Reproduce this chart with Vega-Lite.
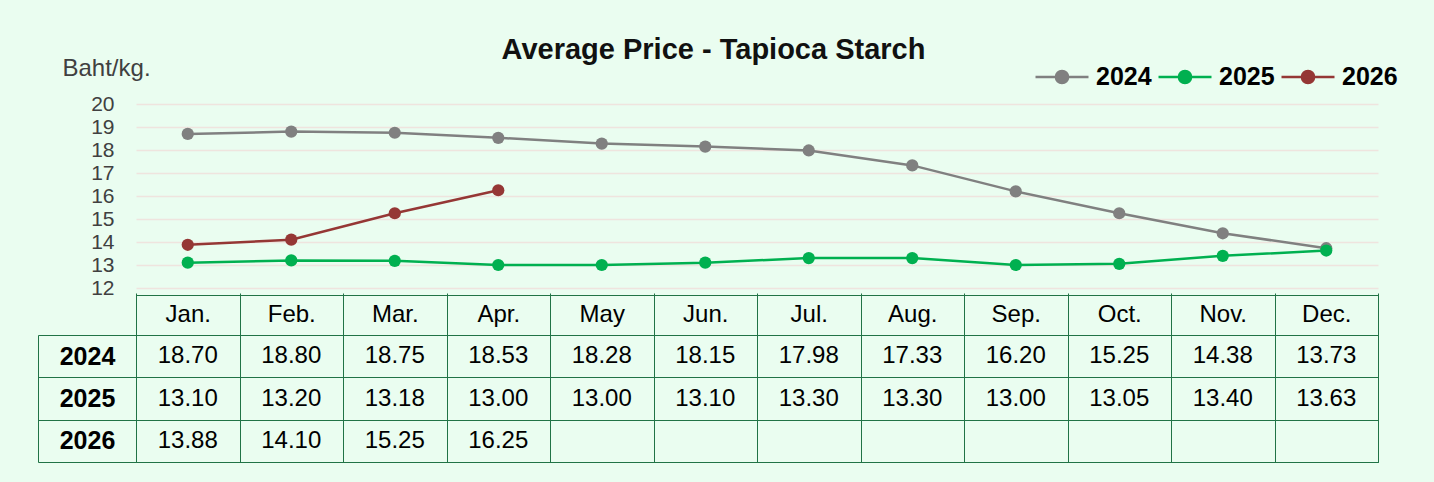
{
  "$schema": "https://vega.github.io/schema/vega-lite/v6.json",
  "background": "#eafdf0",
  "padding": {"left": 37, "top": 36, "right": 38, "bottom": 19},
  "config": {"font": "Liberation Sans", "concat": {"spacing": -6}},
  "title": {"text": "Average Price - Tapioca Starch", "font": "Liberation Sans", "fontSize": 29, "fontWeight": "bold", "color": "#111111", "anchor": "middle", "offset": -9, "dx": -4},
  "datasets": {
    "prices": [
      {"year": "2024", "month": "Jan.", "price": 18.70},
      {"year": "2024", "month": "Feb.", "price": 18.80},
      {"year": "2024", "month": "Mar.", "price": 18.75},
      {"year": "2024", "month": "Apr.", "price": 18.53},
      {"year": "2024", "month": "May", "price": 18.28},
      {"year": "2024", "month": "Jun.", "price": 18.15},
      {"year": "2024", "month": "Jul.", "price": 17.98},
      {"year": "2024", "month": "Aug.", "price": 17.33},
      {"year": "2024", "month": "Sep.", "price": 16.20},
      {"year": "2024", "month": "Oct.", "price": 15.25},
      {"year": "2024", "month": "Nov.", "price": 14.38},
      {"year": "2024", "month": "Dec.", "price": 13.73},
      {"year": "2025", "month": "Jan.", "price": 13.10},
      {"year": "2025", "month": "Feb.", "price": 13.20},
      {"year": "2025", "month": "Mar.", "price": 13.18},
      {"year": "2025", "month": "Apr.", "price": 13.00},
      {"year": "2025", "month": "May", "price": 13.00},
      {"year": "2025", "month": "Jun.", "price": 13.10},
      {"year": "2025", "month": "Jul.", "price": 13.30},
      {"year": "2025", "month": "Aug.", "price": 13.30},
      {"year": "2025", "month": "Sep.", "price": 13.00},
      {"year": "2025", "month": "Oct.", "price": 13.05},
      {"year": "2025", "month": "Nov.", "price": 13.40},
      {"year": "2025", "month": "Dec.", "price": 13.63},
      {"year": "2026", "month": "Jan.", "price": 13.88},
      {"year": "2026", "month": "Feb.", "price": 14.10},
      {"year": "2026", "month": "Mar.", "price": 15.25},
      {"year": "2026", "month": "Apr.", "price": 16.25}
    ]
  },
  "resolve": {"scale": {"x": "independent", "y": "independent"}},
  "vconcat": [
    {
      "width": 1242,
      "height": 184,
      "view": {"stroke": null},
      "data": {"name": "prices"},
      "mark": {"type": "line", "strokeWidth": 2.5, "point": {"filled": true, "size": 150, "opacity": 1}},
      "encoding": {
        "x": {
          "field": "month", "type": "ordinal",
          "sort": ["Jan.", "Feb.", "Mar.", "Apr.", "May", "Jun.", "Jul.", "Aug.", "Sep.", "Oct.", "Nov.", "Dec."],
          "scale": {"type": "point", "padding": 0.5},
          "axis": {"title": null, "labels": false, "ticks": false, "grid": false, "domain": true, "domainColor": "#217346", "domainWidth": 1, "offset": 7}
        },
        "y": {
          "field": "price", "type": "quantitative",
          "scale": {"domain": [12, 20], "nice": false, "zero": false},
          "axis": {
            "values": [12, 13, 14, 15, 16, 17, 18, 19, 20],
            "title": "Baht/kg.", "titleAngle": 0, "titleAlign": "left", "titleBaseline": "alphabetic",
            "titleX": -74, "titleY": -29, "titleFontSize": 24, "titleFontWeight": "normal", "titleColor": "#404040",
            "labelFontSize": 21, "labelColor": "#404040", "labelPadding": 22, "labelOverlap": false,
            "ticks": false, "domain": false,
            "grid": true, "gridColor": "#efe4de", "gridWidth": 1.5
          }
        },
        "color": {
          "field": "year", "type": "nominal",
          "scale": {"domain": ["2024", "2025", "2026"], "range": ["#808080", "#00b050", "#953735"]},
          "legend": {
            "title": null, "orient": "none", "direction": "horizontal",
            "legendX": 898, "legendY": -39, "padding": 0,
            "symbolType": "M-1,0H1M-0.23,0A0.23,0.23,0,1,1,0.23,0A0.23,0.23,0,1,1,-0.23,0Z",
            "symbolSize": 2809, "symbolStrokeWidth": 2.5, "clipHeight": 24,
            "labelFont": "Liberation Sans", "labelFontSize": 25, "labelFontWeight": "bold", "labelColor": "#000000",
            "labelOffset": 6, "columnPadding": 5,
            "encode": {"symbols": {"update": {"fill": {"scale": "color", "field": "value"}, "stroke": {"scale": "color", "field": "value"}, "opacity": {"value": 1}}}}
          }
        }
      }
    },
    {
      "width": 1242,
      "height": 127,
      "view": {"stroke": "#217346", "strokeWidth": 1},
      "data": {"name": "prices"},
      "mark": {"type": "text", "fontSize": 24, "color": "#000000", "font": "Liberation Sans"},
      "encoding": {
        "x": {
          "field": "month", "type": "ordinal",
          "sort": ["Jan.", "Feb.", "Mar.", "Apr.", "May", "Jun.", "Jul.", "Aug.", "Sep.", "Oct.", "Nov.", "Dec."],
          "scale": {"type": "band", "paddingInner": 0, "paddingOuter": 0},
          "axis": {
            "orient": "top", "title": null, "tickBand": "extent", "tickSize": 42, "tickColor": "#217346", "tickWidth": 1,
            "labelPadding": -21, "labelBaseline": "middle", "labelAngle": 0, "labelFontSize": 24, "labelColor": "#000000",
            "domainColor": "#217346", "domainWidth": 1,
            "grid": true, "gridColor": "#217346", "gridOpacity": 1, "gridWidth": 1
          }
        },
        "y": {
          "field": "year", "type": "ordinal",
          "sort": ["2024", "2025", "2026"],
          "scale": {"type": "band", "paddingInner": 0, "paddingOuter": 0},
          "axis": {
            "title": null, "offset": 98, "tickBand": "extent", "tickSize": -98, "tickColor": "#217346", "tickWidth": 1,
            "labelPadding": 49, "labelAlign": "center", "labelBaseline": "middle",
            "labelFontSize": 25, "labelFontWeight": "bold", "labelColor": "#000000",
            "domainColor": "#217346", "domainWidth": 1,
            "grid": true, "gridColor": "#217346", "gridOpacity": 1, "gridWidth": 1
          }
        },
        "text": {"field": "price", "type": "quantitative", "format": ".2f"}
      }
    }
  ]
}
